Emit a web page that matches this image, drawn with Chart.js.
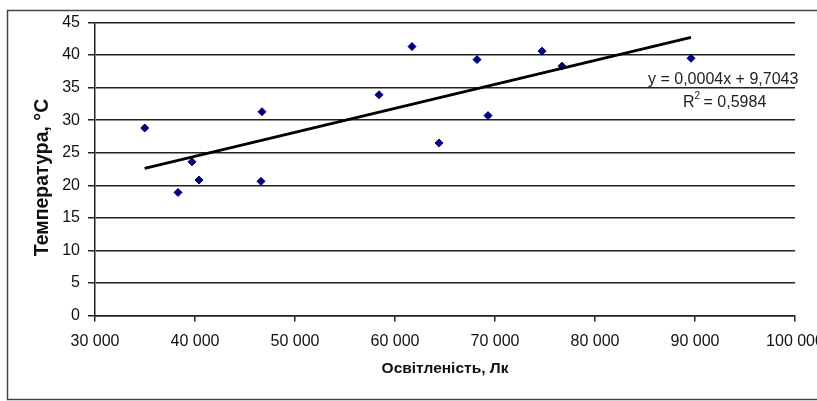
<!DOCTYPE html>
<html>
<head>
<meta charset="utf-8">
<script src="https://cdn.jsdelivr.net/npm/chart.js@4/dist/chart.umd.min.js"></script>
<style>
  body { margin: 0; background: #fff; }
  #wrap { width: 817px; height: 401px; }
</style>
</head>
<body>
<div id="wrap"><canvas id="chart" width="817" height="401"></canvas></div>
<script>
// illuminance (lx) vs temperature (°C)
const lux  = [34970, 38300, 39700, 40400, 46700, 46600, 58400, 61700, 64400, 68200, 69300, 74700, 76700, 89600];
const temp = [28.8, 18.9, 23.6, 20.8, 31.3, 20.6, 33.9, 41.3, 26.5, 39.3, 30.7, 40.6, 38.3, 39.5];

const xTicks = [30000, 40000, 50000, 60000, 70000, 80000, 90000, 100000];
const yTicks = [0, 5, 10, 15, 20, 25, 30, 35, 40, 45];

const xTitle = "Освітленість, Лк";
const yTitle = "Температура, °С";
const eqText = "y = 0,0004x + 9,7043";
const r2Text = "= 0,5984";

const INK = "#111";
const GRID = "#222";
const FONT = "'Liberation Sans', Arial, sans-serif";

// least squares line through the points
function linFit(xs, ys) {
  const n = xs.length;
  const mx = xs.reduce((s, v) => s + v, 0) / n;
  const my = ys.reduce((s, v) => s + v, 0) / n;
  let sxy = 0, sxx = 0;
  xs.forEach((x, i) => { sxy += (x - mx) * (ys[i] - my); sxx += (x - mx) * (x - mx); });
  const b = sxy / sxx;
  return { a: my - b * mx, b };
}

const fit = linFit(lux, temp);
const xMin = Math.min(...lux), xMax = Math.max(...lux);

function spaced(v) {
  return String(v).replace(/\B(?=(\d{3})+(?!\d))/g, " ");
}

// outer frame, y title and the trendline equation
const extras = {
  id: "extras",
  beforeDraw(chart) {
    const c = chart.ctx;
    c.save();
    c.fillStyle = "#fff";
    c.fillRect(0, 0, chart.width, chart.height);
    c.strokeStyle = "#444";
    c.lineWidth = 1.5;
    c.strokeRect(7.5, 10.5, 840, 389);
    c.restore();
  },
  afterDraw(chart) {
    const c = chart.ctx;
    c.save();
    c.translate(43, 177.5);
    c.rotate(-Math.PI / 2);
    c.fillStyle = INK;
    c.font = "bold 19.5px " + FONT;
    c.textAlign = "center";
    c.textBaseline = "middle";
    c.fillText(yTitle, 0, 0);
    c.restore();
  },
  afterDatasetsDraw(chart) {
    const c = chart.ctx;
    c.save();
    c.fillStyle = "#222";
    c.font = "16px " + FONT;
    c.textBaseline = "alphabetic";
    c.fillText(eqText, 648, 84);
    c.fillText("R", 683, 107);
    const rw = c.measureText("R").width;
    c.font = "10px " + FONT;
    c.fillText("2", 683 + rw, 99);
    c.font = "16px " + FONT;
    c.fillText(r2Text, 683 + rw + 9, 107);
    c.restore();
  }
};

new Chart(document.getElementById("chart"), {
  type: "scatter",
  data: {
    datasets: [
      {
        type: "line",
        data: [{ x: xMin, y: fit.a + fit.b * xMin }, { x: xMax, y: fit.a + fit.b * xMax }],
        borderColor: "#000",
        borderWidth: 2.8,
        pointRadius: 0,
        order: 0,
      },
      {
        data: lux.map((x, i) => ({ x, y: temp[i] })),
        pointStyle: "rectRot",
        pointRadius: 4,
        backgroundColor: "#000080",
        borderColor: "#000080",
        borderWidth: 1,
        order: 1,
      },
    ],
  },
  options: {
    responsive: false,
    animation: false,
    events: [],
    layout: { padding: { left: 8, top: 22.5, right: 22, bottom: 0 } },
    plugins: { legend: { display: false }, tooltip: { enabled: false } },
    scales: {
      x: {
        type: "linear",
        min: xTicks[0],
        max: xTicks[xTicks.length - 1],
        afterBuildTicks: s => { s.ticks = xTicks.map(v => ({ value: v })); },
        afterFit: s => { s.height = 85.5; s.paddingLeft = 0; s.paddingRight = 0; },
        grid: { drawOnChartArea: false, drawTicks: true, tickLength: 6, color: GRID, lineWidth: 1.5 },
        border: { color: GRID, width: 1.5 },
        ticks: { color: INK, font: { family: FONT, size: 16 }, padding: 10, maxRotation: 0, autoSkip: false, callback: v => spaced(v) },
        title: { display: true, text: xTitle, color: INK, font: { family: FONT, size: 15.5, weight: "bold" }, padding: { top: 0, bottom: 23 } },
      },
      y: {
        min: yTicks[0],
        max: yTicks[yTicks.length - 1],
        afterBuildTicks: s => { s.ticks = yTicks.map(v => ({ value: v })); },
        afterFit: s => { s.width = 87; s.paddingTop = 0; s.paddingBottom = 0; },
        grid: { color: GRID, lineWidth: 1.5, tickLength: 7 },
        border: { color: GRID, width: 1.5 },
        ticks: { color: INK, font: { family: FONT, size: 16 }, padding: 8 },
      },
    },
  },
  plugins: [extras],
});
</script>
</body>
</html>
